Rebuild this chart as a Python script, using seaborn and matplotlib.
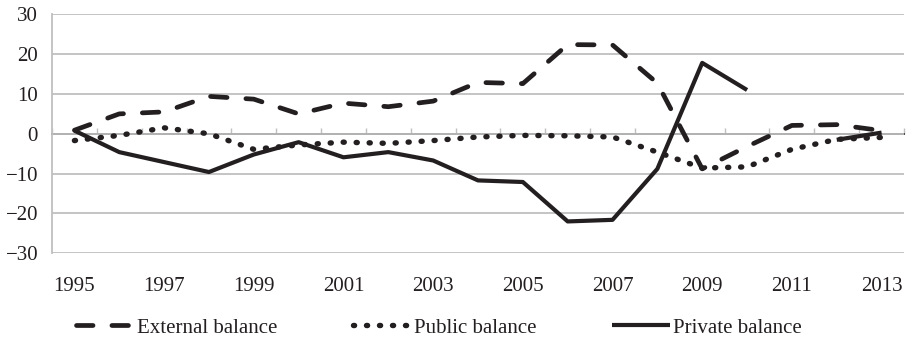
import numpy as np
import pandas as pd
import matplotlib
matplotlib.use("Agg")
import matplotlib.pyplot as plt
import seaborn as sns

# ---- data -------------------------------------------------------------
years = list(range(1995, 2014))
external = [0.9, 5.0, 5.5, 9.4, 8.7, 5.0, 7.7, 6.8, 8.2, 12.9, 12.6,
            22.4, 22.3, 12.7, -8.8, -3.2, 2.1, 2.3, 0.8]
public = [-1.7, -0.4, 1.5, 0.0, -3.9, -2.8, -2.1, -2.4, -1.7, -0.8, -0.4,
          -0.5, -0.8, -4.6, -8.6, -8.3, -3.9, -1.4, -0.9]
private = [0.8, -4.6, -7.1, -9.6, -5.2, -2.1, -5.9, -4.6, -6.7, -11.7, -12.1,
           -22.0, -21.6, -8.8, 17.8, 11.0, np.nan, -1.5, 0.3]
series_names = ["External balance", "Public balance", "Private balance"]
xtick_years = list(range(1995, 2014, 2))
ytick_values = [-30, -20, -10, 0, 10, 20, 30]

# ---- style ------------------------------------------------------------
sns.set_theme(style="white")
plt.rcParams["font.family"] = ["Liberation Serif", "DejaVu Serif"]
ink = "#231F20"
grid = "#BFBFBF"

fig = plt.figure(figsize=(9.06, 3.38), dpi=100)
W, H = 906, 338
ax = fig.add_axes([52 / W, 1 - 253.3 / H, (904 - 52) / W, (253.3 - 14.3) / H])

def frame(values):
    s = pd.Series(values, dtype=float)
    return pd.DataFrame({"year": years, "value": s,
                         "segment": s.isna().cumsum()}).dropna()

sns.lineplot(data=frame(external), x="year", y="value", units="segment",
             estimator=None, ax=ax, color=ink, lw=3.4, legend=False,
             linestyle=(0, (3.5, 4.0)), dash_capstyle="round",
             label=series_names[0])
sns.lineplot(data=frame(public), x="year", y="value", units="segment",
             estimator=None, ax=ax, color=ink, lw=3.9, legend=False,
             linestyle=(0, (0.2, 2.2)), dash_capstyle="round",
             label=series_names[1])
sns.lineplot(data=frame(private), x="year", y="value", units="segment",
             estimator=None, ax=ax, color=ink, lw=3.0, legend=False,
             solid_capstyle="butt", label=series_names[2])

ax.set_xlim(1994.5, 2013.5)
ax.set_ylim(-30, 30)
ax.set_xlabel("")
ax.set_ylabel("")

# y axis
ax.set_yticks(ytick_values)
ax.yaxis.grid(True, color=grid, lw=1.3)
ax.set_axisbelow(True)
for side in ["top", "right", "bottom"]:
    ax.spines[side].set_visible(False)
ax.spines["left"].set_color(grid)
ax.spines["left"].set_linewidth(1.3)
ax.tick_params(axis="y", which="major", direction="out", length=4,
               width=1.0, color=grid, labelcolor=ink, labelsize=15, pad=6)

# x labels at the bottom, no tick marks
ax.set_xticks(xtick_years)
ax.set_xticklabels([str(y) for y in xtick_years])
ax.tick_params(axis="x", which="both", length=0, labelcolor=ink,
               labelsize=15, pad=17)

# category axis line with tick marks at zero
sec = ax.secondary_xaxis(0.5)
sec.set_xticks(np.arange(1994.5, 2014.0, 1.0))
sec.set_xticklabels([])
sec.spines["bottom"].set_visible(False)
sec.tick_params(axis="x", direction="out", length=4.5, width=1.0, color=grid)

# legend
handles, labels = ax.get_legend_handles_labels()
uniq = {}
for h, l in zip(handles, labels):
    if l in series_names and l not in uniq:
        uniq[l] = h
fig.legend([uniq[n] for n in series_names], series_names, loc="center",
           bbox_to_anchor=(439 / W, 1 - 328 / H), ncol=3, frameon=False,
           fontsize=15, handlelength=2.8, handletextpad=0.15,
           columnspacing=3.6, labelcolor=ink)

fig.savefig("out.png", dpi=100)
